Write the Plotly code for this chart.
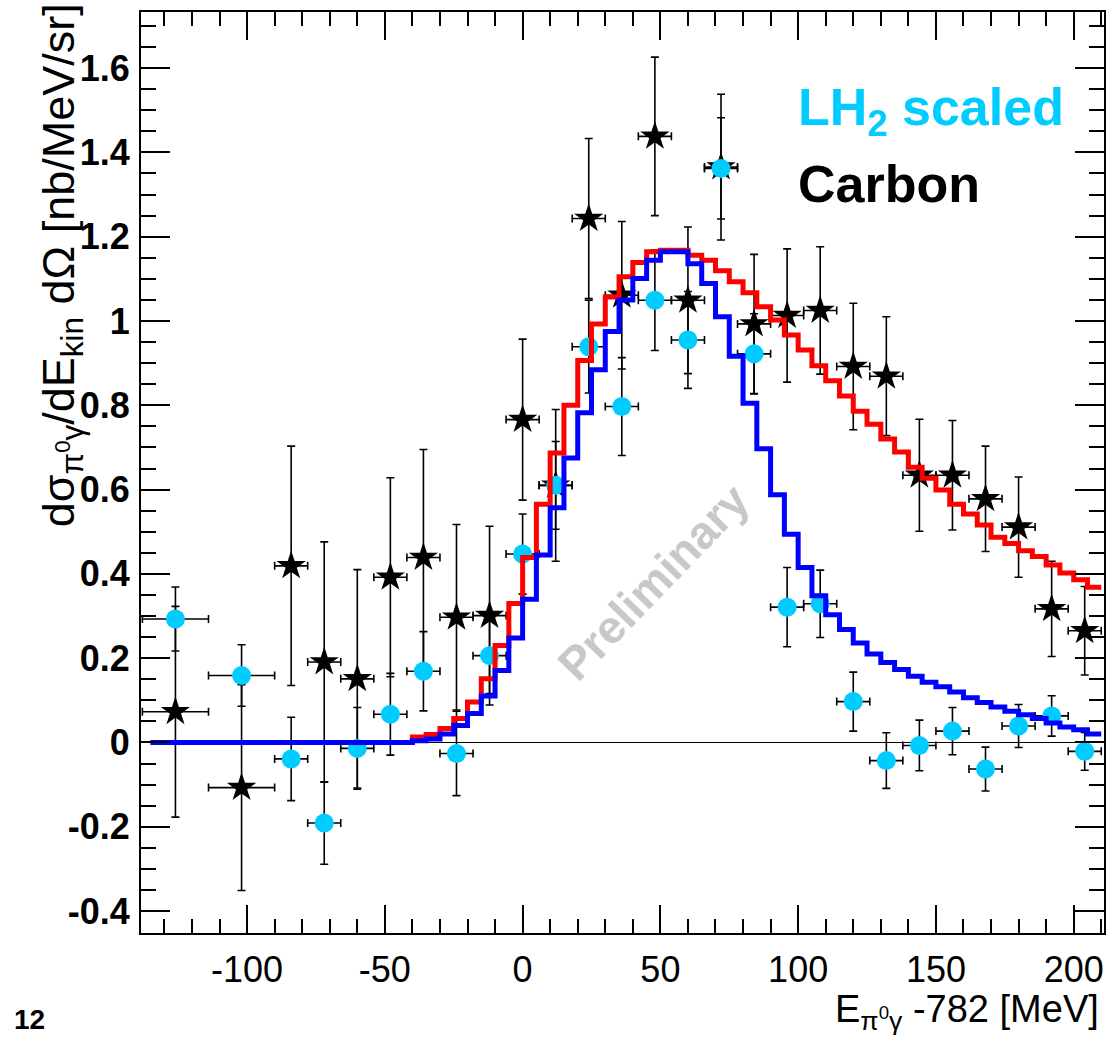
import plotly.graph_objects as go

# ---------------- data ----------------
point_x = [-126, -102, -84, -72, -60, -48, -36, -24, -12, 0, 12, 24, 36, 48, 60,
           72, 84, 96, 108, 120, 132, 144, 156, 168, 180, 192, 204]
point_xerr = [12, 12, 6, 6, 6, 6, 6, 6, 6, 6, 6, 6, 6, 6, 6,
              6, 6, 6, 6, 6, 6, 6, 6, 6, 6, 6, 6]

carbon_y = [0.073, -0.107, 0.419, 0.191, 0.151, 0.392, 0.439, 0.297, 0.301, 0.766,
            0.61, 1.243, 1.061, 1.438, 1.049, 1.365, 0.993, 1.013, 1.025, 0.892,
            0.869, 0.634, 0.634, 0.578, 0.511, 0.317, 0.265]
carbon_err = [0.25, 0.244, 0.284, 0.285, 0.259, 0.236, 0.256, 0.22, 0.212, 0.191,
              0.18, 0.19, 0.175, 0.188, 0.174, 0.173, 0.165, 0.158, 0.151, 0.15,
              0.141, 0.133, 0.13, 0.125, 0.119, 0.113, 0.105]

lh2_y = [0.293, 0.159, -0.039, -0.191, -0.014, 0.067, 0.169, -0.026, 0.206, 0.447,
         0.61, 0.939, 0.797, 1.049, 0.955, 1.362, 0.922, 0.321, 0.329, 0.097,
         -0.043, -0.007, 0.027, -0.063, 0.039, 0.063, -0.021]
lh2_err = [0.076, 0.073, 0.099, 0.098, 0.097, 0.097, 0.094, 0.1, 0.09, 0.095,
           0.104, 0.11, 0.116, 0.119, 0.115, 0.12, 0.095, 0.094, 0.08, 0.07,
           0.066, 0.06, 0.056, 0.052, 0.051, 0.048, 0.045]

hist_start = -135
hist_width = 5
# model histograms, one value per 5 MeV bin from -135 to 210
carbon_model = [0] * 19 + [
    0.013, 0.019, 0.033, 0.057, 0.096, 0.151, 0.23, 0.33, 0.439, 0.565,
    0.687, 0.80, 0.906, 0.993, 1.057, 1.105, 1.139, 1.164, 1.168, 1.168,
    1.156, 1.144, 1.119, 1.093, 1.067, 1.034, 1.002, 0.967, 0.931, 0.894,
    0.858, 0.822, 0.786, 0.755, 0.72, 0.689, 0.653, 0.627, 0.599, 0.565,
    0.542, 0.516, 0.487, 0.472, 0.455, 0.441, 0.421, 0.402, 0.386, 0.368]
lh2_model = [0] * 19 + [
    0.004, 0.008, 0.02, 0.04, 0.069, 0.11, 0.171, 0.248, 0.34, 0.445,
    0.557, 0.675, 0.782, 0.884, 0.975, 1.05, 1.101, 1.144, 1.164, 1.164,
    1.136, 1.089, 1.01, 0.916, 0.805, 0.697, 0.588, 0.494, 0.415, 0.348,
    0.303, 0.268, 0.236, 0.21, 0.19, 0.173, 0.157, 0.143, 0.132, 0.12,
    0.106, 0.095, 0.084, 0.074, 0.066, 0.057, 0.046, 0.037, 0.03, 0.02]

x_tick_vals = [-100, -50, 0, 50, 100, 150, 200]
x_tick_text = ["-100", "-50", "0", "50", "100", "150", "200"]
y_tick_vals = [-0.4, -0.2, 0, 0.2, 0.4, 0.6, 0.8, 1.0, 1.2, 1.4, 1.6]
y_tick_text = ["-0.4", "-0.2", "0", "0.2", "0.4", "0.6", "0.8", "1", "1.2", "1.4", "1.6"]

# ---------------- figure ----------------
CYAN = "rgb(0,204,255)"
FONT = "Liberation Sans, Arial, sans-serif"

edges = [hist_start + hist_width * i for i in range(len(carbon_model) + 1)]

fig = go.Figure()

err_style = dict(type="data", color="black", thickness=1.6, width=4)

fig.add_trace(go.Scatter(
    x=point_x, y=carbon_y, mode="markers", name="Carbon",
    marker=dict(symbol="star", size=22, color="black"),
    error_y=dict(array=carbon_err, **err_style),
    error_x=dict(array=point_xerr, **err_style),
))
fig.add_trace(go.Scatter(
    x=point_x, y=lh2_y, mode="markers", name="LH2 scaled",
    marker=dict(symbol="circle", size=19, color=CYAN),
    error_y=dict(array=lh2_err, **err_style),
    error_x=dict(array=point_xerr, **err_style),
))
fig.add_trace(go.Scatter(
    x=edges, y=carbon_model + [carbon_model[-1]], mode="lines",
    line=dict(color="red", width=5, shape="hv"), name="Carbon model",
))
fig.add_trace(go.Scatter(
    x=edges, y=lh2_model + [lh2_model[-1]], mode="lines",
    line=dict(color="blue", width=5, shape="hv"), name="LH2 model",
))

axis_common = dict(
    showgrid=False, showline=True, linecolor="black", linewidth=2,
    mirror="allticks", ticks="inside", tickcolor="black", tickwidth=1.5,
    tickmode="array",
)

fig.update_xaxes(
    range=[-138.5, 211], tickvals=x_tick_vals, ticktext=x_tick_text,
    ticklen=28, zeroline=False,
    tickfont=dict(family=FONT, size=36, color="black"),
    ticklabelstandoff=4,
    minor=dict(tickmode="linear", tick0=0, dtick=10, ticks="inside",
               ticklen=14, tickwidth=1.5, tickcolor="black"),
    **axis_common,
)
fig.update_yaxes(
    range=[-0.452, 1.733], tickvals=y_tick_vals, ticktext=y_tick_text,
    ticklen=29, zeroline=True, zerolinecolor="black", zerolinewidth=1.2,
    tickfont=dict(family=FONT, size=36, color="black", weight="bold"),
    ticklabelstandoff=2,
    minor=dict(tickmode="linear", tick0=0, dtick=0.05, ticks="inside",
               ticklen=15, tickwidth=1.5, tickcolor="black"),
    **axis_common,
)

annotations = [
    # y-axis title
    dict(text="dσ<sub>π<sup>0</sup>γ</sub>/dE<sub>kin</sub> dΩ [nb/MeV/sr]",
         xref="paper", yref="paper", x=-0.083, y=0.725,
         xanchor="center", yanchor="middle", textangle=-90, showarrow=False,
         font=dict(family=FONT, size=45, color="black")),
    # x-axis title
    dict(text="E<sub>π<sup>0</sup>γ</sub> -782 [MeV]",
         xref="paper", yref="paper", x=0.997, y=-0.086,
         xanchor="right", yanchor="middle", showarrow=False,
         font=dict(family=FONT, size=38, color="black")),
    # legend texts
    dict(text="LH<sub>2</sub> scaled", xref="paper", yref="paper",
         x=0.680, y=0.893, xanchor="left", yanchor="middle", showarrow=False,
         font=dict(family=FONT, size=52, color=CYAN, weight="bold")),
    dict(text="Carbon", xref="paper", yref="paper",
         x=0.680, y=0.813, xanchor="left", yanchor="middle", showarrow=False,
         font=dict(family=FONT, size=52, color="black", weight="bold")),
    # watermark
    dict(text="Preliminary", xref="paper", yref="paper",
         x=0.532, y=0.381, xanchor="center", yanchor="middle", textangle=-46,
         showarrow=False,
         font=dict(family=FONT, size=46, color="rgb(200,200,200)", weight="bold")),
    # page number
    dict(text="12", xref="paper", yref="paper", x=-0.134, y=-0.094,
         xanchor="left", yanchor="middle", showarrow=False,
         font=dict(family=FONT, size=28, color="black", weight="bold")),
]

fig.update_layout(
    width=1109, height=1041,
    margin=dict(l=141, r=3, t=12, b=108),
    paper_bgcolor="white", plot_bgcolor="white",
    showlegend=False, annotations=annotations,
)

fig.write_html("out.html")
